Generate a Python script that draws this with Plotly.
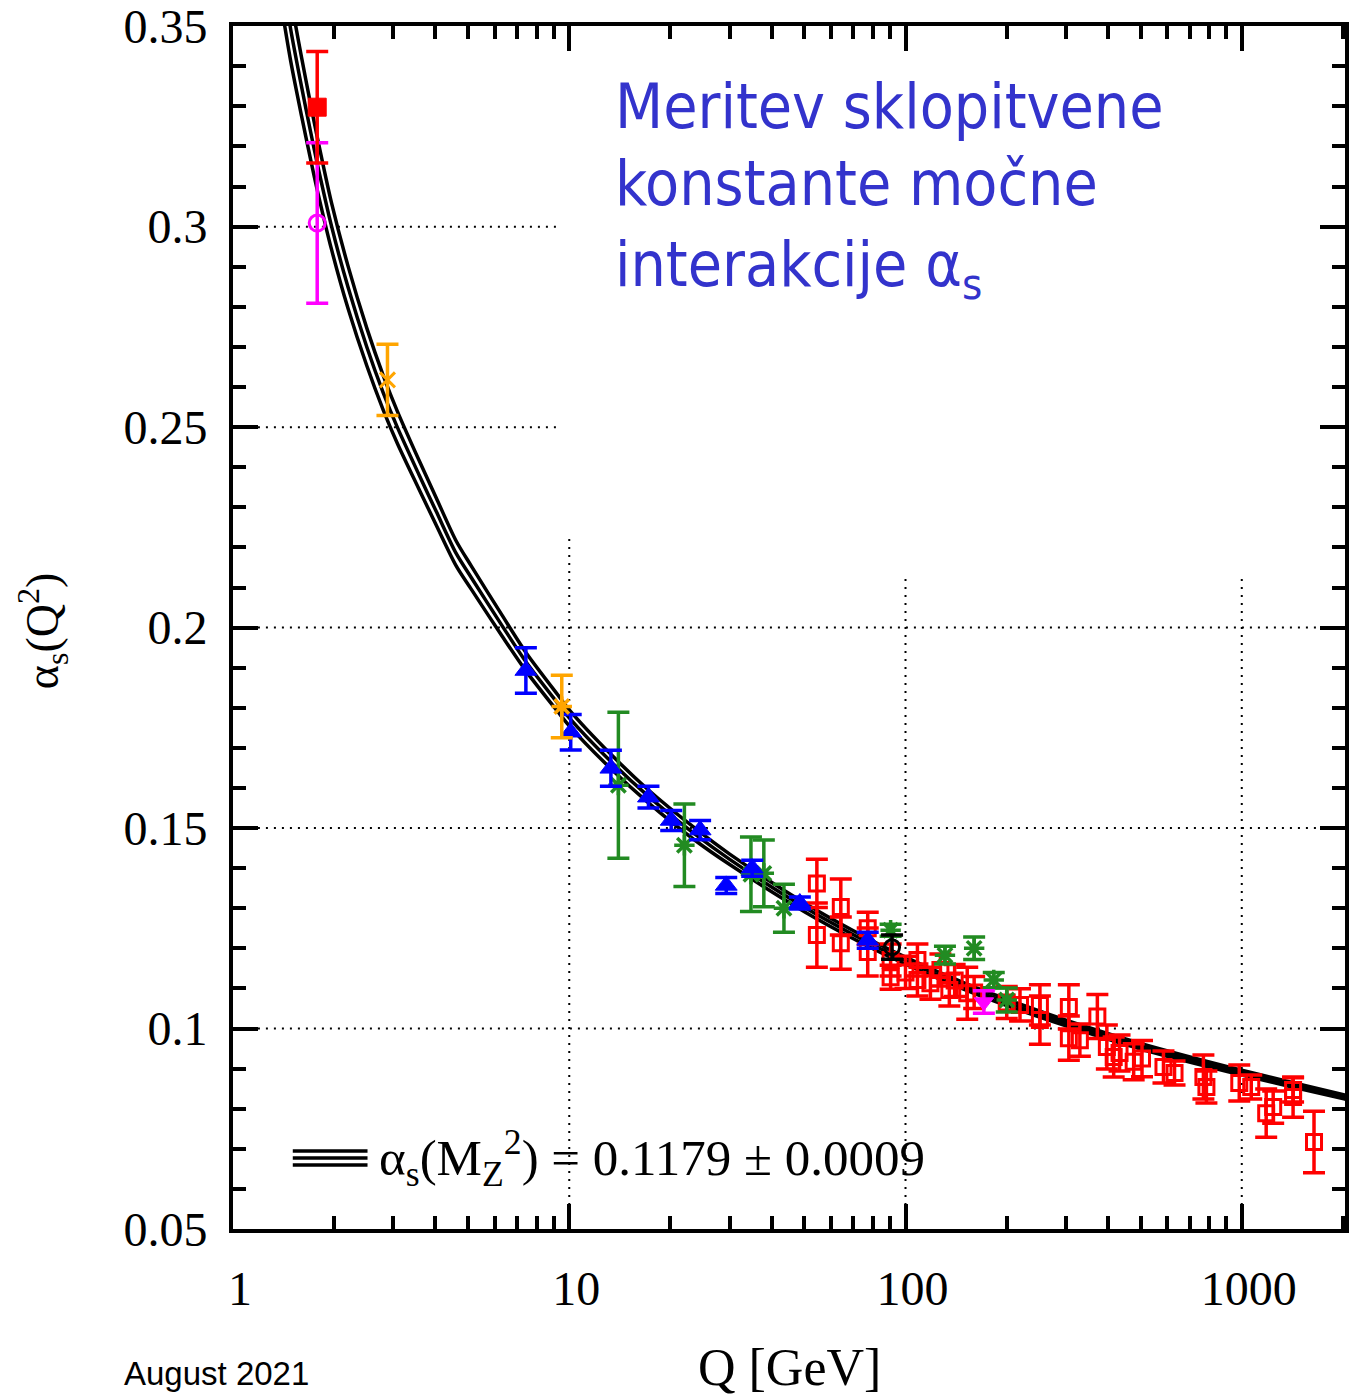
import plotly.graph_objects as go

# ---------------- running coupling band ----------------
curve_q = [1.40, 1.486, 1.6, 1.70, 1.78, 1.965, 2.2, 2.5, 2.8, 3.08, 3.58, 4.02, 4.61,
           5.11, 6.31, 7.43, 9.31, 10.0, 13.3, 17.2, 23.7, 30.0, 49.9, 70.0, 91.2, 150.0,
           200.0, 323.0, 500.0, 1000.0, 2027.0, 2100.0]
curve_a = [0.3625, 0.3490, 0.3348, 0.3238, 0.3158, 0.3000, 0.2848, 0.2700, 0.2585, 0.2500,
           0.2380, 0.2290, 0.2185, 0.2125, 0.2005, 0.1915, 0.1808, 0.1775, 0.1666, 0.1579,
           0.1484, 0.1422, 0.1303, 0.1234, 0.1185, 0.1105, 0.1065, 0.1005, 0.0956, 0.0890,
           0.0829, 0.0826]
curve_d = [0.0085, 0.0079, 0.0073, 0.0069, 0.0066, 0.0058, 0.0053, 0.0047, 0.0043, 0.0040,
           0.0036, 0.0034, 0.0031, 0.0029, 0.0026, 0.0023, 0.0021, 0.0020, 0.0018, 0.0016,
           0.0015, 0.0013, 0.0011, 0.0010, 0.0009, 0.0008, 0.0008, 0.0007, 0.0007, 0.0006,
           0.0005, 0.0005]

tau_q = [1.78]
tau_a = [0.3298]
tau_e = [0.0139]

lat_q = [1.78]
lat_a = [0.3009]
lat_e = [0.0200]

orx_q = [2.88]
orx_a = [0.2618]
orx_e = [0.0089]

ora_q = [9.5]
ora_a = [0.1803]
ora_e = [0.0078]

blue_q = [7.43, 10.1, 13.3, 17.2, 20.1, 24.5, 29.3, 35.0, 48.5, 77.2]
blue_a = [0.1893, 0.1739, 0.1649, 0.1577, 0.1519, 0.1495, 0.1357, 0.1400, 0.1313, 0.1220]
blue_e = [0.0057, 0.0044, 0.0045, 0.0027, 0.0025, 0.0024, 0.0020, 0.0020, 0.0015, 0.0020]

green_q = [14.0, 22.0, 34.7, 37.9, 43.5, 90.3, 131.0, 160.0, 183.0, 200.0]
green_a = [0.1607, 0.1457, 0.1385, 0.1387, 0.1300, 0.1245, 0.1183, 0.1200, 0.1121, 0.1071]
green_e = [0.0182, 0.0103, 0.0093, 0.0083, 0.0060, 0.0015, 0.0022, 0.0028, 0.0019, 0.0030]

red_q = [54.5, 54.5, 64.2, 64.2, 77.2, 77.2, 90.3, 90.3, 100.0, 108.5, 108.5, 118.6, 127.0,
         135.0, 140.0, 152.6, 160.0, 200.0, 219.0, 251.0, 251.0, 306.0, 306.0, 330.0, 372.0,
         397.0, 416.0, 433.0, 477.0, 505.0, 585.0, 631.0, 769.0, 785.0, 983.0, 1067.0,
         1182.0, 1240.0, 1421.0, 1421.0, 1640.0]
red_a = [0.1362, 0.1233, 0.1303, 0.1213, 0.1250, 0.1191, 0.1171, 0.1128, 0.1140, 0.1171,
         0.1121, 0.1113, 0.1146, 0.1096, 0.1120, 0.1088, 0.1090, 0.1065, 0.1059, 0.1059,
         0.1021, 0.1054, 0.0976, 0.0971, 0.1030, 0.0954, 0.0929, 0.0939, 0.0917, 0.0925,
         0.0904, 0.0889, 0.0879, 0.0854, 0.0864, 0.0854, 0.0789, 0.0804, 0.0829, 0.0847,
         0.0717]
red_e = [0.0060, 0.0080, 0.0070, 0.0065, 0.0040, 0.0060, 0.0040, 0.0030, 0.0040, 0.0040,
         0.0040, 0.0040, 0.0040, 0.0040, 0.0040, 0.0065, 0.0040, 0.0040, 0.0040, 0.0050,
         0.0060, 0.0055, 0.0055, 0.0040, 0.0055, 0.0055, 0.0050, 0.0045, 0.0045, 0.0045,
         0.0040, 0.0030, 0.0055, 0.0040, 0.0045, 0.0030, 0.0060, 0.0040, 0.0050, 0.0030,
         0.0077]

mag_q = [171.0]
mag_a = [0.1066]
mag_e = [0.0028]

mz_q = [91.2]
mz_a = [0.1203]
mz_e = [0.0030]

# tick labels
xtick_vals = [1, 10, 100, 1000]
xtick_text = ["1", "10", "100", "1000"]
xminor_vals = [2, 3, 4, 5, 6, 7, 8, 9, 20, 30, 40, 50, 60, 70, 80, 90,
               200, 300, 400, 500, 600, 700, 800, 900, 2000]
ytick_vals = [0.05, 0.1, 0.15, 0.2, 0.25, 0.3, 0.35]
ytick_text = ["0.05", "0.1", "0.15", "0.2", "0.25", "0.3", "0.35"]
yminor_vals = [round(0.05 + 0.01 * i, 2) for i in range(1, 30) if i % 5 != 0]

# dotted grid segments
hgrid = [(0.30, 1.186, 9.18), (0.25, 1.186, 9.18), (0.20, 1.186, 1720.0),
         (0.15, 1.186, 1720.0), (0.10, 1.186, 1720.0)]
vgrid = [(10.0, 0.056, 0.223), (100.0, 0.056, 0.2122), (1000.0, 0.056, 0.2122)]

fig = go.Figure()

for (yv, xa, xb) in hgrid:
    fig.add_trace(go.Scatter(x=[xa, xb], y=[yv, yv], mode="lines",
                             line=dict(color="black", width=2, dash="2px,6px"),
                             hoverinfo="skip", showlegend=False))
for (xv, ya, yb) in vgrid:
    fig.add_trace(go.Scatter(x=[xv, xv], y=[ya, yb], mode="lines",
                             line=dict(color="black", width=2, dash="2px,6px"),
                             hoverinfo="skip", showlegend=False))

upper = [a + d for a, d in zip(curve_a, curve_d)]
lower = [a - d for a, d in zip(curve_a, curve_d)]
for yy in (upper, curve_a, lower):
    fig.add_trace(go.Scatter(x=curve_q, y=yy, mode="lines",
                             line=dict(color="black", width=3.5, shape="spline",
                                       smoothing=0.8),
                             hoverinfo="skip", showlegend=False))


def pts(q, a, e, color, symbol, size, lw=3, fill=None):
    mk = dict(symbol=symbol, size=size, color=fill if fill else color,
              line=dict(color=color, width=lw))
    fig.add_trace(go.Scatter(x=q, y=a, mode="markers", marker=mk,
                             error_y=dict(type="data", array=e, visible=True,
                                          color=color, thickness=3.5, width=11),
                             showlegend=False))


pts(red_q, red_a, red_e, "#FF0000", "square-open", 15, 3)
pts(green_q, green_a, green_e, "#228B22", "asterisk-open", 17, 3.5)
pts(blue_q, blue_a, blue_e, "#0000FF", "triangle-up", 19, 1, "#0000FF")
pts(mag_q, mag_a, mag_e, "#FF00FF", "triangle-down", 17, 1, "#FF00FF")
pts(mz_q, mz_a, mz_e, "#000000", "circle-open", 15, 3)
pts(orx_q, orx_a, orx_e, "#FFA500", "x-thin-open", 15, 3)
pts(ora_q, ora_a, ora_e, "#FFA500", "asterisk-open", 17, 3.5)
pts(lat_q, lat_a, lat_e, "#FF00FF", "circle-open", 16, 3)
pts(tau_q, tau_a, tau_e, "#FF0000", "square", 18, 1, "#FF0000")

serif = "Liberation Serif, Times New Roman, serif"

fig.update_layout(
    width=1349, height=1397,
    margin=dict(l=233, r=0, t=25, b=168),
    paper_bgcolor="white", plot_bgcolor="white",
    showlegend=False,
    xaxis=dict(type="log", range=[0, 3.307], showline=True, linecolor="black", linewidth=4,
               mirror="ticks", ticks="inside", ticklen=25, tickwidth=3.5, tickcolor="black",
               tickmode="array", tickvals=xtick_vals, ticktext=xtick_text,
               tickfont=dict(family=serif, size=48, color="black"),
               ticklabelstandoff=14, ticklabelshift=7, ticklabeloverflow="allow",
               showgrid=False, zeroline=False,
               minor=dict(ticks="inside", ticklen=13, tickwidth=3.5, tickcolor="black",
                          tickmode="array", tickvals=xminor_vals, showgrid=False)),
    yaxis=dict(range=[0.05, 0.35005], showline=True, linecolor="black", linewidth=4,
               mirror="ticks", ticks="inside", ticklen=25, tickwidth=3.5, tickcolor="black",
               tickmode="array", tickvals=ytick_vals, ticktext=ytick_text,
               tickfont=dict(family=serif, size=48, color="black"),
               ticklabelstandoff=12, ticklabeloverflow="allow",
               showgrid=False, zeroline=False,
               minor=dict(ticks="inside", ticklen=13, tickwidth=3.5, tickcolor="black",
                          tickmode="array", tickvals=yminor_vals, showgrid=False)),
)


def px2paper(px, py):
    return (px - 233) / 1116.0, (1229 - py) / 1204.0


# legend: three black lines + text
for ly in (1151, 1158, 1165):
    x0, y0 = px2paper(293, ly)
    x1, _ = px2paper(368, ly)
    fig.add_shape(type="line", xref="paper", yref="paper", x0=x0, x1=x1, y0=y0, y1=y0,
                  line=dict(color="black", width=3.5))

lx, lyp = px2paper(378, 1158)
fig.add_annotation(xref="paper", yref="paper", x=lx, y=lyp, xanchor="left", yanchor="middle",
                   text="α<sub>s</sub>(M<sub>Z</sub><sup>2</sup>) = 0.1179 ± 0.0009",
                   showarrow=False, font=dict(family=serif, size=51, color="black"))

# blue heading
title_font = dict(family="DejaVu Sans Condensed, Liberation Sans, sans-serif", size=62,
                  color="#3333CC")
for txt, cy in (("Meritev sklopitvene", 106), ("konstante močne", 183),
                ("interakcije α<sub>s</sub>", 268)):
    tx, ty = px2paper(614, cy)
    fig.add_annotation(xref="paper", yref="paper", x=tx, y=ty, xanchor="left",
                       yanchor="middle", text=txt, showarrow=False, font=title_font)

# axis titles
ax_x, ax_y = px2paper(792, 1368)
fig.add_annotation(xref="paper", yref="paper", x=ax_x, y=ax_y, xanchor="center",
                   yanchor="middle", text="Q [GeV]", showarrow=False,
                   font=dict(family=serif, size=52, color="black"))
ay_x, ay_y = px2paper(42, 630)
fig.add_annotation(xref="paper", yref="paper", x=ay_x, y=ay_y, xanchor="center",
                   yanchor="middle", textangle=-90,
                   text="α<sub>s</sub>(Q<sup>2</sup>)", showarrow=False,
                   font=dict(family=serif, size=46, color="black"))

# date
dx, dy = px2paper(122, 1374)
fig.add_annotation(xref="paper", yref="paper", x=dx, y=dy, xanchor="left",
                   yanchor="middle", text="August 2021", showarrow=False,
                   font=dict(family="Liberation Sans Narrow, Liberation Sans, sans-serif",
                             size=33, color="black"))

fig.write_html("out.html")
